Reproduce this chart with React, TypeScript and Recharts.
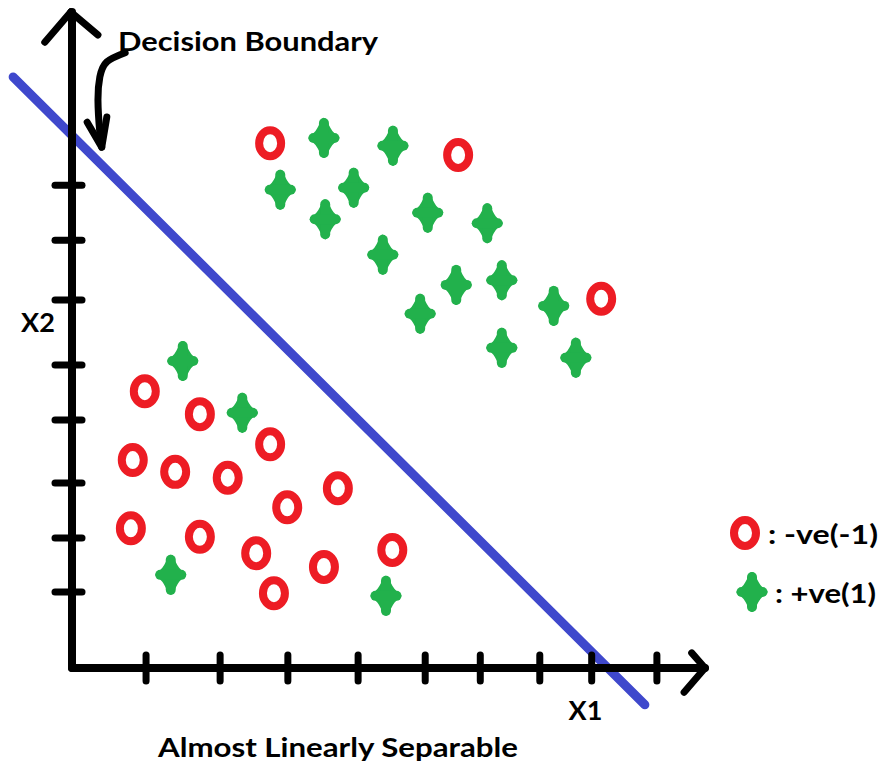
import React from 'react';
import {
  ScatterChart,
  Scatter,
  XAxis,
  YAxis,
  ReferenceLine,
  Legend,
  Label,
  Customized,
} from 'recharts';

// class -1 (red rings)
const negativePoints = [
  { x: 1.15, y: 4.22 },
  { x: 2.02, y: 3.87 },
  { x: 3.13, y: 3.41 },
  { x: 0.96, y: 3.17 },
  { x: 1.63, y: 2.99 },
  { x: 2.46, y: 2.9 },
  { x: 4.2, y: 2.74 },
  { x: 3.4, y: 2.45 },
  { x: 0.93, y: 2.13 },
  { x: 2.02, y: 2.0 },
  { x: 2.91, y: 1.75 },
  { x: 5.06, y: 1.8 },
  { x: 3.98, y: 1.54 },
  { x: 3.19, y: 1.14 },
  { x: 3.13, y: 8.0 },
  { x: 6.1, y: 7.82 },
  { x: 8.36, y: 5.63 },
];

// class +1 (green stars)
const positivePoints = [
  { x: 1.75, y: 4.68 },
  { x: 2.69, y: 3.89 },
  { x: 1.56, y: 1.42 },
  { x: 4.96, y: 1.1 },
  { x: 3.98, y: 8.08 },
  { x: 5.07, y: 7.96 },
  { x: 3.29, y: 7.29 },
  { x: 4.45, y: 7.32 },
  { x: 4.0, y: 6.84 },
  { x: 5.62, y: 6.94 },
  { x: 6.56, y: 6.78 },
  { x: 4.91, y: 6.3 },
  { x: 6.07, y: 5.84 },
  { x: 6.79, y: 5.91 },
  { x: 5.5, y: 5.4 },
  { x: 7.61, y: 5.52 },
  { x: 6.79, y: 4.88 },
  { x: 7.96, y: 4.73 },
];

const xTicks = [1.17, 2.34, 3.41, 4.52, 5.58, 6.45, 7.39, 8.21, 9.24];
const yTicks = [1.16, 1.98, 2.82, 3.78, 4.62, 5.61, 6.52, 7.36];

const legendOrder = ['-ve(-1)', '+ve(1)'];

const boundaryLine = [
  { x: -0.93, y: 9.01 },
  { x: 9.05, y: -0.56 },
];

// hand drawn pointer from the "Decision Boundary" note
const pointerCurve = [
  { x: 0.84, y: 9.38 },
  { x: 0.55, y: 9.24 },
  { x: 0.44, y: 9.01 },
  { x: 0.41, y: 8.66 },
  { x: 0.44, y: 8.16 },
  { x: 0.47, y: 7.94 },
];
const pointerHead = [
  { x: 0.24, y: 8.32 },
  { x: 0.47, y: 7.94 },
  { x: 0.55, y: 8.4 },
];

const yArrowHead = [
  { x: -0.43, y: 9.54 },
  { x: -0.02, y: 10 },
  { x: 0.41, y: 9.65 },
];
const xArrowHead = [
  { x: 9.79, y: 0.23 },
  { x: 10, y: 0 },
  { x: 9.67, y: -0.37 },
];

const RED = '#ED1C24';
const GREEN = '#22B14C';
const BLUE = '#3F48CC';
const FONT = 'Lato, "Open Sans", sans-serif';

// concave body of the four-pointed star
const starBody = (cx: number, cy: number, w: number, h: number) => {
  const a = w / 2;
  const b = h / 2;
  const q = (sx: number, sy: number) => [
    `${cx + sx * 5},${cy + sy * (b - 9)}`,
    `${cx + sx * (a - 8)},${cy + sy * 5}`,
  ];
  const [r1, r2] = q(1, -1);
  const [s1, s2] = q(1, 1);
  const [t1, t2] = q(-1, 1);
  const [u1, u2] = q(-1, -1);
  return [
    `M${cx},${cy - b}`,
    `C${r1} ${r2} ${cx + a},${cy}`,
    `C${s2} ${s1} ${cx},${cy + b}`,
    `C${t1} ${t2} ${cx - a},${cy}`,
    `C${u2} ${u1} ${cx},${cy - b}`,
    'Z',
  ].join(' ');
};

const Star = (props: any) => {
  const { cx, cy } = props;
  const w = 31;
  const h = 40;
  const t = 10;
  return (
    <g>
      <path d={starBody(cx, cy, w - 4, h - 4)} fill={GREEN} stroke={GREEN} strokeWidth={4} strokeLinejoin="round" />
      <line x1={cx} x2={cx} y1={cy - h / 2 + t / 2} y2={cy + h / 2 - t / 2} stroke={GREEN} strokeWidth={t} strokeLinecap="round" />
      <line x1={cx - w / 2 + t / 2} x2={cx + w / 2 - t / 2} y1={cy} y2={cy} stroke={GREEN} strokeWidth={t} strokeLinecap="round" />
    </g>
  );
};

const Ring = (props: any) => {
  const { cx, cy } = props;
  return <ellipse cx={cx} cy={cy} rx={11} ry={13} fill="none" stroke={RED} strokeWidth={8} />;
};

const NoDot = () => <g />;

const XTick = (props: any) => {
  const { x, y } = props;
  return <line x1={x} x2={x} y1={y - 13} y2={y + 13} stroke="#000" strokeWidth={7} strokeLinecap="round" />;
};

const YTick = (props: any) => {
  const { x, y } = props;
  return <line x1={x - 17} x2={x + 10} y1={y} y2={y} stroke="#000" strokeWidth={7} strokeLinecap="round" />;
};

const renderLegend = (props: any) => {
  const payload = props.payload || [];
  const items = legendOrder
    .map((name) => payload.find((p: any) => p.value === name))
    .filter(Boolean);
  return (
    <svg width={170} height={110}>
      {items.map((entry: any, i: number) => {
        const cy = 23 + i * 59;
        const ix = 17 + i * 7;
        return (
          <g key={entry.value}>
            {i === 0 ? <Ring cx={ix} cy={cy} /> : <Star cx={ix} cy={cy} />}
            <text
              x={ix + 23}
              y={cy}
              dominantBaseline="central"
              fontFamily={FONT}
              fontWeight={700}
              fontSize={27}
              fill="#000"
              textLength={i === 0 ? 110 : 101}
              lengthAdjust="spacingAndGlyphs"
            >
              {`: ${entry.value}`}
            </text>
          </g>
        );
      })}
    </svg>
  );
};

const Notes = () => (
  <g fontFamily={FONT} fontWeight={700} fill="#000">
    <text x={118} y={51} fontSize={27} textLength={260} lengthAdjust="spacingAndGlyphs">
      Decision Boundary
    </text>
    <text x={158} y={757} fontSize={27} textLength={360} lengthAdjust="spacingAndGlyphs">
      Almost Linearly Separable
    </text>
  </g>
);

const arrowSegments = (pts: { x: number; y: number }[], key: string) =>
  pts.slice(1).map((p, i) => (
    <ReferenceLine
      key={`${key}-${i}`}
      segment={[pts[i], p]}
      stroke="#000"
      strokeWidth={7}
      strokeLinecap="round"
      ifOverflow="visible"
    />
  ));

export default function App() {
  return (
    <div style={{ position: 'absolute', left: 0, top: 0, width: 896, height: 769, background: '#fff' }}>
      <ScatterChart width={896} height={769} margin={{ top: 12, right: 191, bottom: 0, left: 0 }}>
        <XAxis
          type="number"
          dataKey="x"
          domain={[0, 10]}
          ticks={xTicks}
          interval={0}
          allowDataOverflow
          height={101}
          tickSize={0}
          tickMargin={0}
          tickLine={false}
          tick={<XTick />}
          axisLine={{ stroke: '#000', strokeWidth: 8, strokeLinecap: 'round' }}
        >
          <Label value="X1" position="center" dx={197} dy={-8} fontFamily={FONT} fontWeight={700} fontSize={27} fill="#000" />
        </XAxis>
        <YAxis
          type="number"
          dataKey="y"
          domain={[0, 10]}
          ticks={yTicks}
          interval={0}
          allowDataOverflow
          width={72}
          tickSize={0}
          tickMargin={0}
          tickLine={false}
          tick={<YTick />}
          axisLine={{ stroke: '#000', strokeWidth: 8, strokeLinecap: 'round' }}
        >
          <Label value="X2" position="center" dx={2} dy={-18} fontFamily={FONT} fontWeight={700} fontSize={27} fill="#000" />
        </YAxis>

        <ReferenceLine
          segment={boundaryLine}
          stroke={BLUE}
          strokeWidth={9}
          strokeLinecap="round"
          ifOverflow="visible"
        />
        {arrowSegments(yArrowHead, 'ya')}
        {arrowSegments(xArrowHead, 'xa')}

        <Scatter
          name="pointer"
          data={pointerCurve}
          fill="#000"
          legendType="none"
          shape={NoDot}
          line={{ stroke: '#000', strokeWidth: 7, strokeLinecap: 'round', strokeLinejoin: 'round' }}
          lineJointType="natural"
          isAnimationActive={false}
        />
        <Scatter
          name="pointer-head"
          data={pointerHead}
          fill="#000"
          legendType="none"
          shape={NoDot}
          line={{ stroke: '#000', strokeWidth: 7, strokeLinecap: 'round', strokeLinejoin: 'round' }}
          isAnimationActive={false}
        />

        <Scatter name="-ve(-1)" data={negativePoints} fill={RED} shape={Ring} isAnimationActive={false} />
        <Scatter name="+ve(1)" data={positivePoints} fill={GREEN} shape={Star} isAnimationActive={false} />

        <Legend
          layout="horizontal"
          verticalAlign="middle"
          align="center"
          content={renderLegend}
          wrapperStyle={{ left: 728, top: 510, width: 170, height: 110 }}
        />
        <Customized component={<Notes />} />
      </ScatterChart>
    </div>
  );
}
